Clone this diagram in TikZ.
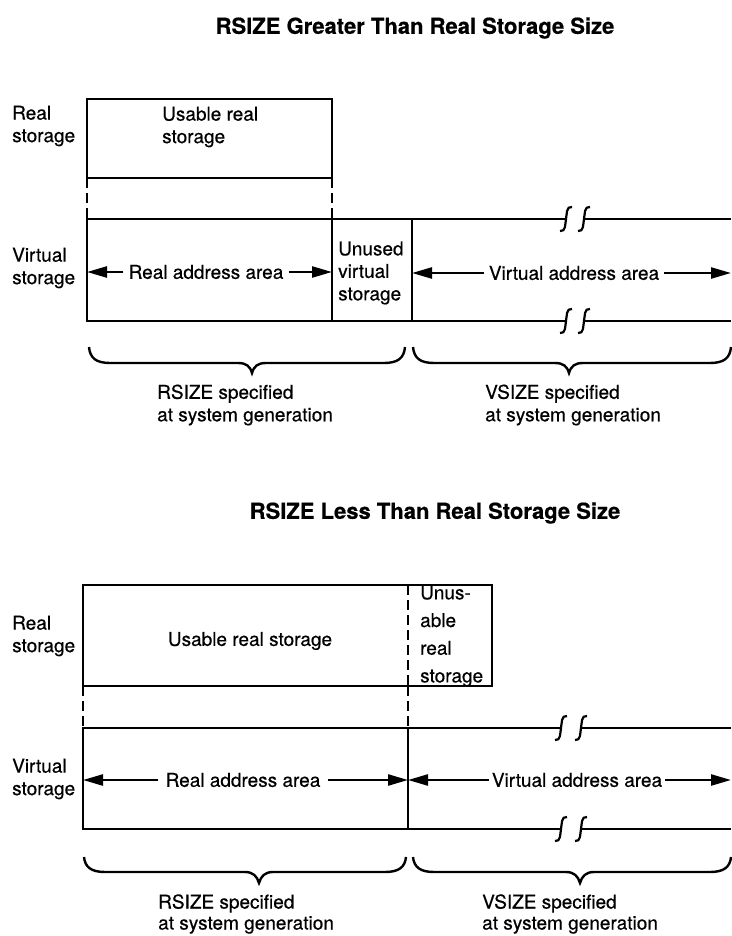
\documentclass[tikz,border=0pt]{standalone}
\usepackage{fontspec}
\setmainfont{TeX Gyre Heros}[FakeBold=0.5]
\usetikzlibrary{arrows.meta}
\begin{document}
\begin{tikzpicture}[x=1pt,y=-1pt,
  wall/.style={line width=2.4pt},
  dashwall/.style={line width=2.4pt, dash pattern=on 10pt off 5pt},
  boxnode/.style={draw, line width=2.4pt, inner sep=0pt, outer sep=0pt, anchor=north west},
  lbl/.style={inner sep=0pt, font=\fontsize{19}{22.5}\selectfont, align=left},
  ttl/.style={inner sep=0pt, font=\fontsize{22}{26}\selectfont\bfseries},
  span/.style={line width=2.4pt, -{Triangle[length=20pt,width=11pt]}},
  bracepath/.style={line width=2.4pt},
  brk/.pic={\draw[line width=2.2pt] (6,-12) .. controls (0,-13) and (1,-5) .. (0,0) .. controls (-1,5) and (0,13) .. (-6,12);}
]
\useasboundingbox (0,0) rectangle (731,936);

%% ================= TOP DIAGRAM =================
\node[ttl] (t1) at (415,28) {RSIZE Greater Than Real Storage Size};

\node[boxnode, minimum width=245pt, minimum height=79pt] (rs1) at (87,99) {};
\node[lbl, anchor=west] (rsl1) at (12,126) {Real\\storage};
\node[lbl, anchor=west] (urs1) at (162,127) {Usable real\\storage};

% virtual storage box
\coordinate (v1tl) at (87,219);
\coordinate (v1bl) at (87,321);
\coordinate (v1d1t) at (332,219);
\coordinate (v1d1b) at (332,321);
\coordinate (v1d2t) at (412,219);
\coordinate (v1d2b) at (412,321);
\draw[wall] (566,219) -- (v1tl) -- (v1bl) -- (566,321);
\draw[wall] (584,219) -- (731,219);
\draw[wall] (584,321) -- (731,321);
\draw[wall] (v1d1t) -- (v1d1b);
\draw[wall] (v1d2t) -- (v1d2b);
\pic at (566,219) {brk};
\pic at (584,219) {brk};
\pic at (566,321) {brk};
\pic at (584,321) {brk};

\draw[dashwall] (rs1.south west) -- (v1tl);
\draw[dashwall] (rs1.south east) -- (v1d1t);

\node[lbl, anchor=west] (vsl1) at (12,268) {Virtual\\storage};
\node[lbl, anchor=west] (uvs1) at (338,273) {Unused\\virtual\\storage};

\node[lbl, inner xsep=5pt] (raa1) at (206,272) {Real address area};
\coordinate (raa1l) at (87,272);
\coordinate (raa1r) at (332,272);
\draw[span] (raa1.west) -- (raa1l);
\draw[span] (raa1.east) -- (raa1r);

\node[lbl, inner xsep=5pt] (vaa1) at (574,273) {Virtual address area};
\coordinate (vaa1l) at (412,273);
\coordinate (vaa1r) at (731,273);
\draw[span] (vaa1.west) -- (vaa1l);
\draw[span] (vaa1.east) -- (vaa1r);

% braces
\draw[bracepath] (89,347) .. controls (90,358) and (96,363) .. (110,363) -- (238,363)
  .. controls (246,363) and (250,366) .. (252,373)
  .. controls (254,366) and (258,363) .. (266,363) -- (384,363)
  .. controls (398,363) and (404,358) .. (405,347);
\draw[bracepath] (413,347) .. controls (414,358) and (420,363) .. (434,363) -- (555,363)
  .. controls (563,363) and (567,366) .. (569,373)
  .. controls (571,366) and (575,363) .. (583,363) -- (710,363)
  .. controls (724,363) and (730,358) .. (731,347);

\node[lbl, anchor=west] (rsz1) at (157,405) {RSIZE specified\\at system generation};
\node[lbl, anchor=west] (vsz1) at (485,405) {VSIZE specified\\at system generation};

%% ================= BOTTOM DIAGRAM =================
\node[ttl] (t2) at (435,513) {RSIZE Less Than Real Storage Size};

\node[boxnode, minimum width=409pt, minimum height=101pt] (rs2) at (83,585) {};
\coordinate (rs2dt) at (408,585);
\coordinate (rs2db) at (408,686);
\draw[dashwall] (rs2dt) -- (rs2db);
\node[lbl, anchor=west] (rsl2) at (12,636) {Real\\storage};
\node[lbl] (urs2) at (250,641) {Usable real storage};
\node[lbl, anchor=west, font=\fontsize{19}{27.7}\selectfont] (unr2) at (420,636) {Unus-\\able\\real\\storage};

\coordinate (v2tl) at (83,728);
\coordinate (v2bl) at (83,829);
\coordinate (v2dt) at (408,728);
\coordinate (v2db) at (408,829);
\draw[wall] (561,728) -- (v2tl) -- (v2bl) -- (561,829);
\draw[wall] (581,728) -- (731,728);
\draw[wall] (581,829) -- (731,829);
\draw[wall] (v2dt) -- (v2db);
\pic at (561,728) {brk};
\pic at (581,728) {brk};
\pic at (561,829) {brk};
\pic at (581,829) {brk};

\draw[dashwall] (rs2.south west) -- (v2tl);
\draw[dashwall] (rs2db) -- (v2dt);

\node[lbl, anchor=west] (vsl2) at (12,779) {Virtual\\storage};

\node[lbl, inner xsep=7pt] (raa2) at (243,780) {Real address area};
\coordinate (raa2l) at (83,780);
\coordinate (raa2r) at (408,780);
\draw[span] (raa2.west) -- (raa2l);
\draw[span] (raa2.east) -- (raa2r);

\node[lbl, inner xsep=3pt] (vaa2) at (577,780) {Virtual address area};
\coordinate (vaa2l) at (408,780);
\coordinate (vaa2r) at (731,780);
\draw[span] (vaa2.west) -- (vaa2l);
\draw[span] (vaa2.east) -- (vaa2r);

\draw[bracepath] (84,857) .. controls (85,867) and (91,872) .. (105,872) -- (245,872)
  .. controls (253,872) and (257,876) .. (259,883)
  .. controls (261,876) and (265,872) .. (273,872) -- (385,872)
  .. controls (399,872) and (405,867) .. (406,857);
\draw[bracepath] (413,857) .. controls (414,867) and (420,872) .. (434,872) -- (566,872)
  .. controls (574,872) and (578,876) .. (580,883)
  .. controls (582,876) and (586,872) .. (594,872) -- (710,872)
  .. controls (724,872) and (730,867) .. (731,857);

\node[lbl, anchor=west, font=\fontsize{19}{21}\selectfont] (rsz2) at (158,914) {RSIZE specified\\at system generation};
\node[lbl, anchor=west, font=\fontsize{19}{21}\selectfont] (vsz2) at (482,914) {VSIZE specified\\at system generation};
\end{tikzpicture}
\end{document}
